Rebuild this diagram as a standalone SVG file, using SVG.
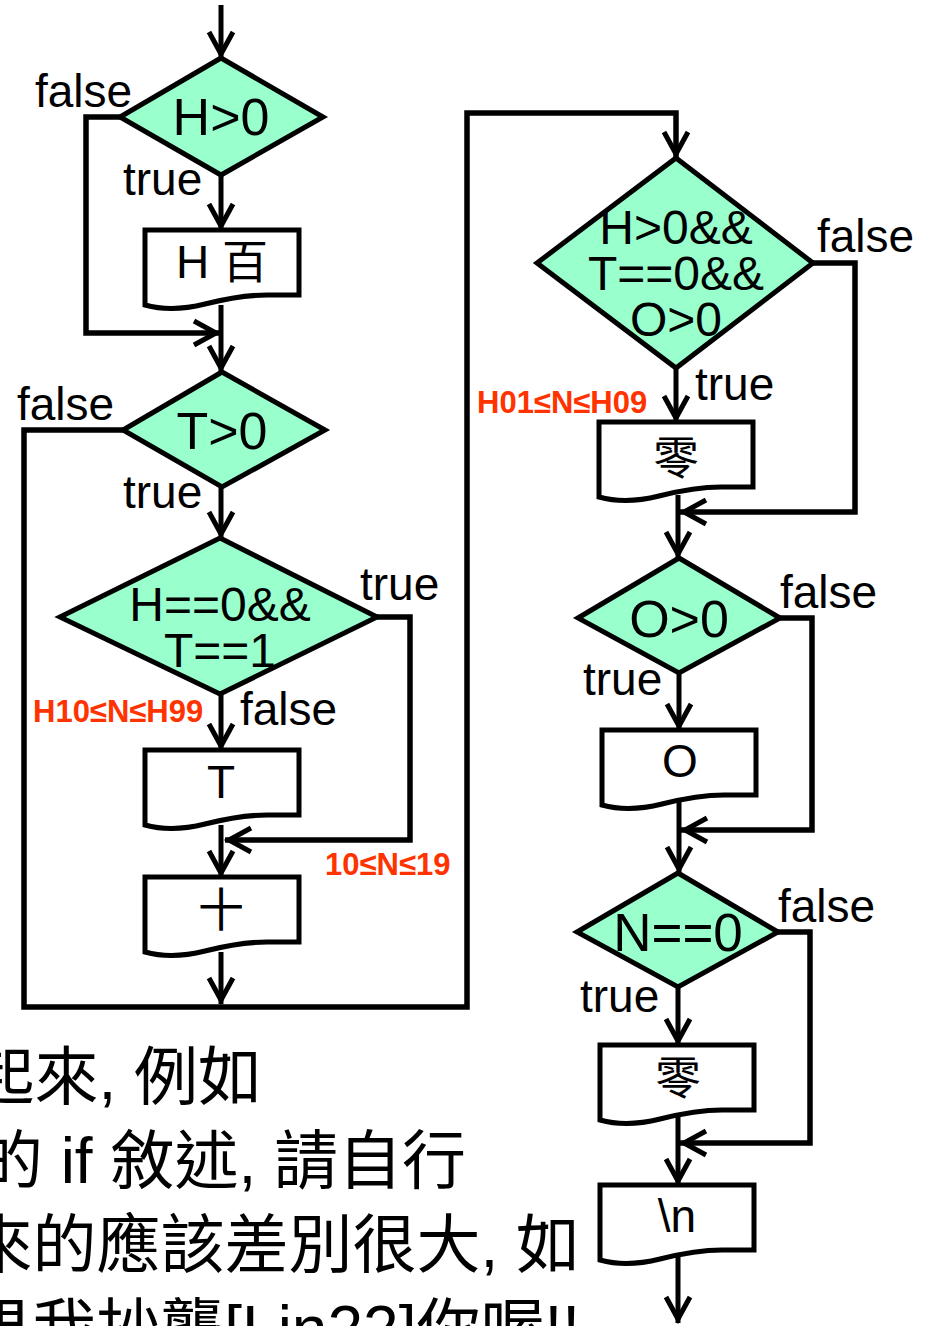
<svg xmlns="http://www.w3.org/2000/svg" width="928" height="1326" viewBox="0 0 928 1326">
<style>
.dia{fill:#99FFCC;stroke:#000;stroke-width:5;stroke-linejoin:miter}
.doc{fill:#fff;stroke:#000;stroke-width:5}
.ln{fill:none;stroke:#000;stroke-width:5;marker-end:url(#ah)}
.pl{fill:none;stroke:#000;stroke-width:5.5;stroke-linejoin:miter;marker-end:url(#ah)}
.t{font-family:"Liberation Sans",Arial,"Noto Sans CJK TC",sans-serif;fill:#000}
.dt{font-size:52px;text-anchor:middle}
.dm{font-size:48px;text-anchor:middle}
.xt{font-size:46px;text-anchor:middle}
.lb{font-size:46px}
.rd{font-family:"Liberation Sans",Arial,sans-serif;font-weight:bold;font-size:31px;fill:#FF3300}
.body{font-family:"Liberation Sans",Arial,"Noto Sans CJK TC",sans-serif;font-size:64px;fill:#000;text-anchor:end}
</style>
<defs>
<marker id="ah" markerUnits="userSpaceOnUse" markerWidth="40" markerHeight="40" viewBox="-30 -20 40 40" refX="0" refY="0" orient="auto" overflow="visible">
<path d="M-26,-12 L-4,0 L-26,12" fill="none" stroke="#000" stroke-width="5"/>
</marker>
<path id="docshape" d="M0,0 H154 V65 H122 C100,65 80,69 60,74 C40,79 18,80 0,75 Z"/>
</defs>

<g id="connectors">
<path class="ln" d="M221,5 V58"/>
<path class="ln" d="M221,175 V230"/>
<path class="ln" d="M221,305 V372"/>
<path class="pl" d="M120,117 H86 V333 H220"/>
<path class="ln" d="M221,487 V538"/>
<path class="pl" d="M123,430 H24 V1007 H467 V113 H676 V158"/>
<path class="ln" d="M221,694 V750"/>
<path class="pl" d="M377,617 H410 V840 H225"/>
<path class="ln" d="M221,825 V877"/>
<path class="ln" d="M221,952 V1004"/>
<path class="ln" d="M676,368 V422"/>
<path class="pl" d="M813,263 H855 V512 H680"/>
<path class="ln" d="M678,495 V558"/>
<path class="pl" d="M780,618 H812 V830 H681"/>
<path class="ln" d="M679,673 V730"/>
<path class="ln" d="M679,800 V873"/>
<path class="pl" d="M778,932 H810 V1143 H680"/>
<path class="ln" d="M678,987 V1045"/>
<path class="ln" d="M678,1115 V1185"/>
<path class="ln" d="M678,1255 V1323"/>
</g>

<g id="d_h0">
<polygon class="dia" points="221,58 323,117 221,175 120,117"/>
<text class="t dt" x="221" y="135">H&gt;0</text>
</g>
<g id="p_h">
<use href="#docshape" class="doc" x="145" y="230"/>
<text class="t xt" x="222" y="278">H 百</text>
</g>
<g id="d_t0">
<polygon class="dia" points="222,372 325,430 222,487 123,430"/>
<text class="t dt" x="222" y="449">T&gt;0</text>
</g>
<g id="d_h0t1">
<polygon class="dia" points="220,538 377,617 220,694 60,617"/>
<text class="t dm" x="220" y="621">H==0&amp;&amp;</text>
<text class="t dm" x="220" y="667">T==1</text>
</g>
<g id="p_t">
<use href="#docshape" class="doc" x="145" y="750"/>
<text class="t xt" x="221" y="798">T</text>
</g>
<g id="p_ten">
<use href="#docshape" class="doc" x="145" y="877"/>
<text class="t xt" x="221" y="926">十</text>
</g>
<g id="d_zero">
<polygon class="dia" points="676,158 813,263 676,368 537,263"/>
<text class="t dm" x="676" y="244">H&gt;0&amp;&amp;</text>
<text class="t dm" x="676" y="290">T==0&amp;&amp;</text>
<text class="t dm" x="676" y="336">O&gt;0</text>
</g>
<g id="p_zero1">
<use href="#docshape" class="doc" x="599" y="422"/>
<text class="t xt" x="676" y="474">零</text>
</g>
<g id="d_o0">
<polygon class="dia" points="679,558 780,618 679,673 578,618"/>
<text class="t dt" x="679" y="637">O&gt;0</text>
</g>
<g id="p_o">
<use href="#docshape" class="doc" x="602" y="730"/>
<text class="t xt" x="680" y="777">O</text>
</g>
<g id="d_n0">
<polygon class="dia" points="678,873 778,932 678,987 577,932"/>
<text class="t dt" x="678" y="951" style="font-size:53px">N==0</text>
</g>
<g id="p_zero2">
<use href="#docshape" class="doc" x="600" y="1045"/>
<text class="t xt" x="678" y="1094">零</text>
</g>
<g id="p_nl">
<use href="#docshape" class="doc" x="600" y="1185"/>
<text class="t xt" x="677" y="1232">\n</text>
</g>

<g id="labels">
<text class="t lb" x="35" y="107">false</text>
<text class="t lb" x="123" y="195">true</text>
<text class="t lb" x="17" y="420">false</text>
<text class="t lb" x="123" y="508">true</text>
<text class="t lb" x="360" y="600">true</text>
<text class="t lb" x="240" y="725">false</text>
<text class="rd" x="33" y="722">H10≤N≤H99</text>
<text class="rd" x="325" y="875">10≤N≤19</text>
<text class="t lb" x="817" y="252">false</text>
<text class="t lb" x="695" y="400">true</text>
<text class="rd" x="477" y="413">H01≤N≤H09</text>
<text class="t lb" x="780" y="608">false</text>
<text class="t lb" x="583" y="695">true</text>
<text class="t lb" x="778" y="922">false</text>
<text class="t lb" x="580" y="1012">true</text>
</g>

<g id="body_text">
<text class="body" x="262" y="1099">起來, 例如</text>
<text class="body" x="466" y="1183">的 if 敘述, 請自行</text>
<text class="body" x="580" y="1267">來的應該差別很大, 如</text>
<text class="body" x="580" y="1351">果我抄襲[Lin22]你喔!!</text>
</g>
</svg>
